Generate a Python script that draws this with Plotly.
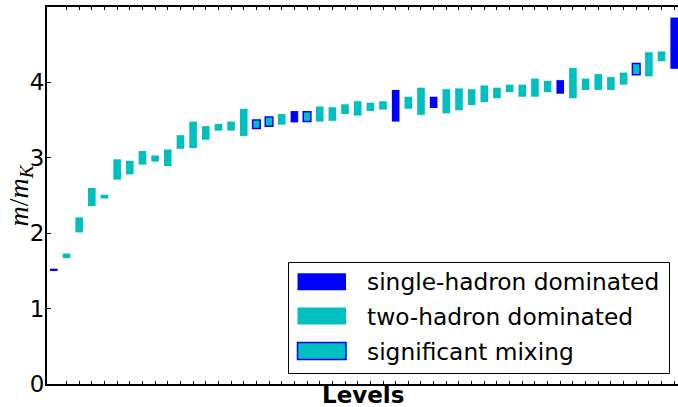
import plotly.graph_objects as go

# ---- data ----
level_index = list(range(50))
level_type = [
    "single", "two", "two", "two", "two", "two", "two", "two", "two", "two",
    "two", "two", "two", "two", "two", "two", "mixing", "mixing", "two", "single",
    "mixing", "two", "two", "two", "two", "two", "two", "single", "two", "two",
    "single", "two", "two", "two", "two", "two", "two", "two", "two", "two",
    "single", "two", "two", "two", "two", "two", "mixing", "two", "two", "single",
]
mass_low = [
    1.51, 1.67, 2.01, 2.36, 2.46, 2.71, 2.78, 2.91, 2.95, 2.89,
    3.12, 3.13, 3.24, 3.36, 3.36, 3.29, 3.39, 3.42, 3.44, 3.47,
    3.48, 3.48, 3.49, 3.58, 3.56, 3.62, 3.64, 3.48, 3.65, 3.57,
    3.66, 3.59, 3.63, 3.70, 3.74, 3.79, 3.87, 3.81, 3.81, 3.87,
    3.85, 3.79, 3.90, 3.90, 3.90, 3.97, 4.10, 4.08, 4.28, 4.18,
]
mass_high = [
    1.53, 1.73, 2.21, 2.60, 2.51, 2.98, 2.96, 3.09, 3.03, 3.11,
    3.30, 3.48, 3.42, 3.45, 3.48, 3.65, 3.50, 3.54, 3.58, 3.62,
    3.61, 3.68, 3.67, 3.71, 3.75, 3.73, 3.75, 3.90, 3.81, 3.93,
    3.81, 3.91, 3.92, 3.91, 3.96, 3.93, 3.97, 3.97, 4.05, 4.02,
    4.03, 4.19, 4.05, 4.11, 4.07, 4.13, 4.25, 4.40, 4.41, 4.86,
]
legend_labels = ["single-hadron dominated", "two-hadron dominated", "significant mixing"]
y_ticks = [0, 1, 2, 3, 4]

BLUE = "#0000ff"
CYAN = "#00bfbf"
FONT = "DejaVu Sans"
FS = 23

styles = {
    "single": dict(color=BLUE, line=dict(width=0)),
    "two": dict(color=CYAN, line=dict(width=0)),
    "mixing": dict(color=CYAN, line=dict(color=BLUE, width=1.5)),
}

fig = go.Figure()
for kind in ["two", "single", "mixing"]:
    xs = [i for i, t in zip(level_index, level_type) if t == kind]
    lo = [mass_low[i] for i in xs]
    hi = [mass_high[i] for i in xs]
    fig.add_trace(go.Bar(
        x=xs, y=[h - l for h, l in zip(hi, lo)], base=lo,
        width=0.6, marker=styles[kind], showlegend=False,
    ))

W, H = 678, 407
L, R, T, B = 47, 0, 7, 23
pw, ph = W - L - R, H - T - B


def px(x):
    return (x - L) / pw


def py(y):
    return (H - B - y) / ph


fig.update_layout(
    width=W, height=H,
    margin=dict(l=L, r=R, t=T, b=B),
    plot_bgcolor="white", paper_bgcolor="white",
    barmode="overlay",
    font=dict(family=FONT, size=FS, color="black"),
)
fig.update_xaxes(
    range=[-0.54, 49.30], tickvals=level_index[1:], showticklabels=False,
    ticks="inside", ticklen=3, tickwidth=1, tickcolor="black",
    showline=True, linecolor="black", linewidth=2, mirror="ticks",
    showgrid=False, zeroline=False,
)
fig.update_yaxes(
    range=[0, 5], tickvals=y_ticks, ticktext=[str(v) for v in y_ticks],
    ticks="inside", ticklen=4, tickwidth=1, tickcolor="black",
    showline=True, linecolor="black", linewidth=2, mirror=False,
    showgrid=False, zeroline=False, tickfont=dict(size=FS),
    ticklabelstandoff=-4,
)

# axis titles
fig.add_annotation(
    xref="paper", yref="paper", x=px(20), y=0.5, textangle=-90,
    text="<i>m</i>/<i>m</i><sub><i>K</i></sub>", showarrow=False,
    font=dict(family="Liberation Serif", size=28), xanchor="center", yanchor="middle",
)
fig.add_annotation(
    xref="paper", yref="paper", x=0.5, y=py(395),
    text="<b>Levels</b>", showarrow=False, font=dict(size=FS),
    xanchor="center", yanchor="middle",
)

# legend (drawn manually to get wide swatches)
fig.add_shape(type="rect", xref="paper", yref="paper",
              x0=px(288.5), x1=px(669.5), y0=py(373.5), y1=py(262.5),
              line=dict(color="black", width=1), fillcolor="white", layer="above")
row_y = [281.7, 316.0, 351.0]
sw_style = [
    dict(fillcolor=BLUE, line=dict(width=0)),
    dict(fillcolor=CYAN, line=dict(width=0)),
    dict(fillcolor=CYAN, line=dict(color=BLUE, width=1.5)),
]
for label, yc, st in zip(legend_labels, row_y, sw_style):
    fig.add_shape(type="rect", xref="paper", yref="paper",
                  x0=px(297.5), x1=px(346), y0=py(yc + 8.5), y1=py(yc - 8.5),
                  layer="above", **st)
    fig.add_annotation(xref="paper", yref="paper", x=px(365), y=py(yc),
                       text=label, showarrow=False, xanchor="left", yanchor="middle",
                       font=dict(size=23.3))

fig.write_html("out.html", config={"displayModeBar": False},
               post_script="document.body.style.margin='0';")
